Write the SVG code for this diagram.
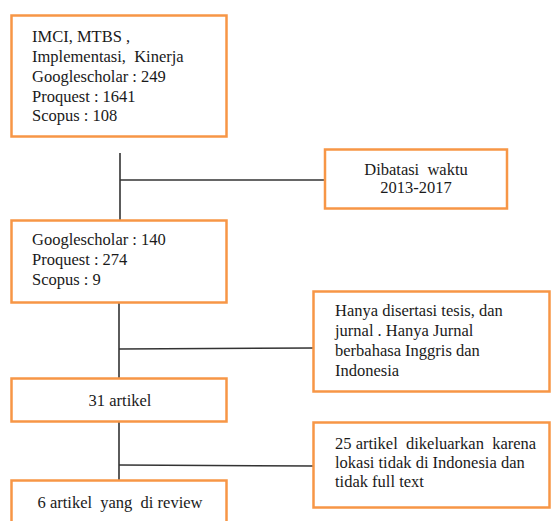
<svg xmlns="http://www.w3.org/2000/svg" width="552" height="521" viewBox="0 0 552 521">
<style>
.box{fill:#fff;stroke:#F79646;stroke-width:2.5}
.t{font-family:'Liberation Serif','Times New Roman','DejaVu Serif',serif;font-size:16.5px;fill:#1a1a1a;white-space:pre}
.c{text-anchor:middle}
.ln{stroke:#333;stroke-width:1.6;fill:none}
</style>
<rect width="552" height="521" fill="#fff"/>
<g id="connectors">
<line class="ln" x1="120" y1="153" x2="120" y2="220"/>
<line class="ln" x1="120" y1="180" x2="325" y2="180"/>
<line class="ln" x1="119" y1="303" x2="119" y2="378"/>
<line class="ln" x1="119" y1="349" x2="314" y2="348"/>
<line class="ln" x1="119" y1="422" x2="119" y2="480"/>
<line class="ln" x1="119" y1="465" x2="314" y2="466"/>
</g>
<g id="n1" font-family="Liberation Serif, serif">
<rect class="box" x="11.5" y="15.5" width="215" height="121"/>
<text class="t" x="32" y="42">IMCI, MTBS ,</text>
<text class="t" x="32" y="62">Implementasi,  Kinerja</text>
<text class="t" x="32" y="82">Googlescholar : 249</text>
<text class="t" x="32" y="102">Proquest : 1641</text>
<text class="t" x="32" y="121">Scopus : 108</text>
</g>
<g id="n2">
<rect class="box" x="325" y="149.5" width="182" height="59"/>
<text class="t c" x="416" y="175">Dibatasi  waktu</text>
<text class="t c" x="416" y="193">2013-2017</text>
</g>
<g id="n3">
<rect class="box" x="11.5" y="220.5" width="215" height="82"/>
<text class="t" x="32" y="245">Googlescholar : 140</text>
<text class="t" x="32" y="265">Proquest : 274</text>
<text class="t" x="32" y="285">Scopus : 9</text>
</g>
<g id="n4">
<rect class="box" x="313.5" y="291.5" width="236" height="100"/>
<text class="t" x="335" y="316">Hanya disertasi tesis, dan</text>
<text class="t" x="335" y="336">jurnal . Hanya Jurnal</text>
<text class="t" x="335" y="356">berbahasa Inggris dan</text>
<text class="t" x="335" y="376">Indonesia</text>
</g>
<g id="n5">
<rect class="box" x="11.5" y="378.5" width="215" height="43"/>
<text class="t c" x="120" y="406">31 artikel</text>
</g>
<g id="n6">
<rect class="box" x="11.5" y="480.5" width="215" height="50"/>
<text class="t c" x="120" y="508">6 artikel  yang  di review</text>
</g>
<g id="n7">
<rect class="box" x="313.5" y="422.5" width="236" height="85"/>
<text class="t" x="335" y="449">25 artikel  dikeluarkan  karena</text>
<text class="t" x="335" y="468">lokasi tidak di Indonesia dan</text>
<text class="t" x="335" y="487">tidak full text</text>
</g>
</svg>
